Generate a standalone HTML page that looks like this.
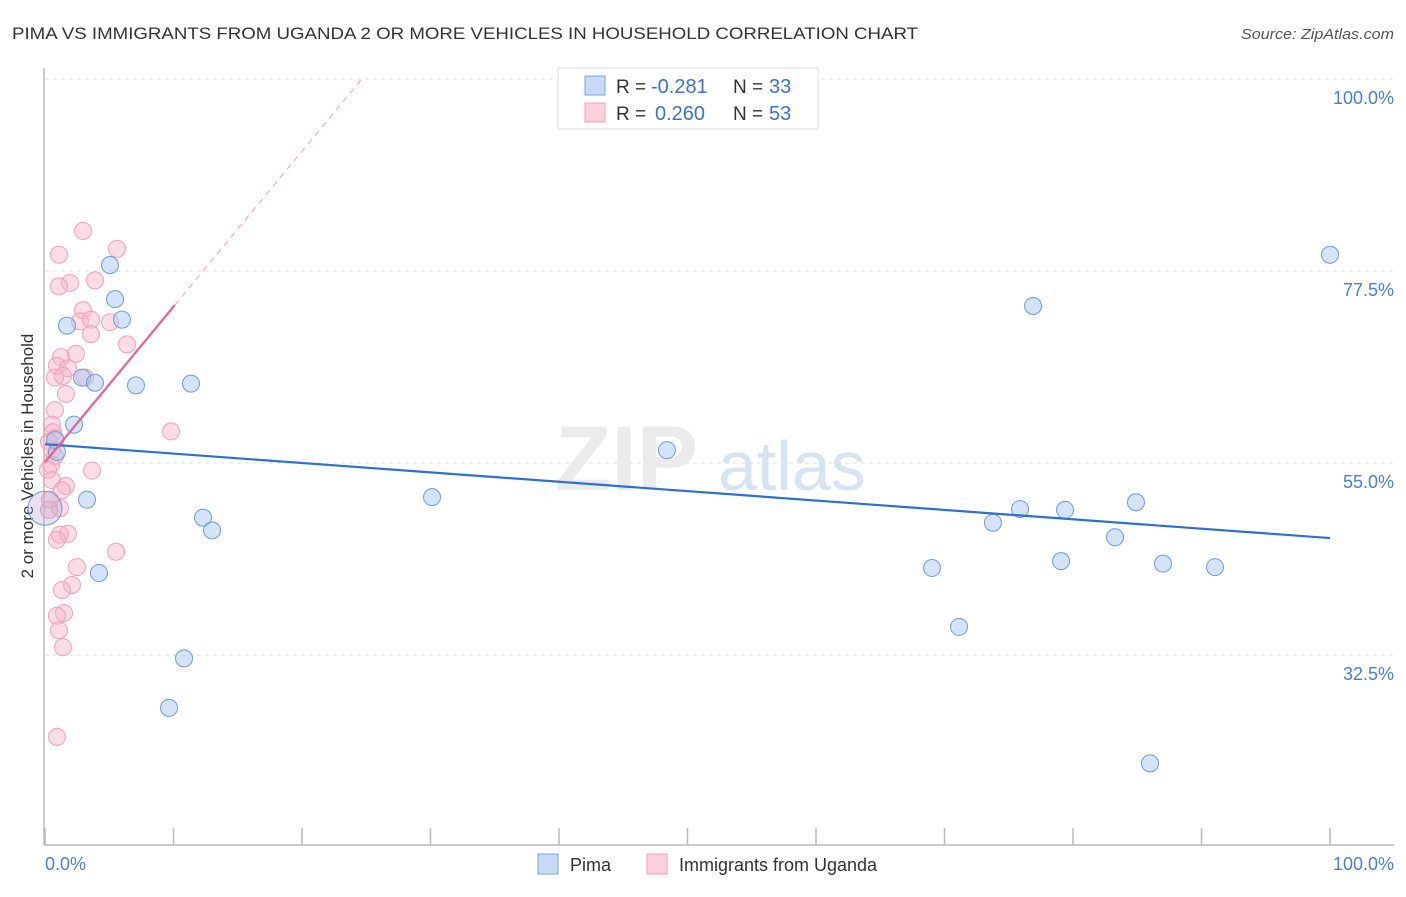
<!DOCTYPE html>
<html><head><meta charset="utf-8">
<style>
body{margin:0;background:#fff;font-family:"Liberation Sans",sans-serif;}
svg text{font-family:"Liberation Sans",sans-serif;}
</style></head>
<body>
<svg id="chart" width="1406" height="892" viewBox="0 0 1406 892" xmlns="http://www.w3.org/2000/svg">
<text x="12" y="39" font-size="17" fill="#333" textLength="906" lengthAdjust="spacingAndGlyphs">PIMA VS IMMIGRANTS FROM UGANDA 2 OR MORE VEHICLES IN HOUSEHOLD CORRELATION CHART</text>
<text x="1394" y="39" font-size="15" fill="#555" text-anchor="end" font-style="italic" textLength="153" lengthAdjust="spacingAndGlyphs">Source: ZipAtlas.com</text>
<g id="grid"></g>
<g>
<text x="555" y="490" font-size="92" fill="#ebebeb" font-family="Liberation Serif,serif" font-weight="bold">ZIP</text>
<text x="718" y="490" font-size="70" fill="#d5e3f3">atlas</text>
</g>
<line x1="44" y1="68" x2="44" y2="845" stroke="#bbb" stroke-width="1.5"/>
<line x1="44" y1="845" x2="1394" y2="845" stroke="#bbb" stroke-width="1.5"/>
<g id="xticks"></g>
<g id="ylabels"></g>
<text x="45" y="870" font-size="18" fill="#4a7fd4">0.0%</text>
<text x="1394" y="870" font-size="18" fill="#4a7fd4" text-anchor="end">100.0%</text>
<text transform="translate(33,456) rotate(-90)" font-size="17" fill="#333" text-anchor="middle">2 or more Vehicles in Household</text>
<g id="points"></g>
<g id="trends"></g>
<g>
<rect x="558" y="68" width="260" height="61" fill="#fff" stroke="#ddd"/>
<rect x="585" y="76" width="20" height="19" fill="#c5daf6" stroke="#7aa6e0"/>
<text x="616" y="93" font-size="19" fill="#333">R =</text>
<text x="651" y="93" font-size="20" fill="#3a72d0">-0.281</text>
<text x="733" y="93" font-size="19" fill="#333">N =</text>
<text x="769" y="93" font-size="20" fill="#3a72d0">33</text>
<rect x="585" y="103" width="20" height="19" fill="#fbd0dc" stroke="#f0a0b8"/>
<text x="616" y="120" font-size="19" fill="#333">R =</text>
<text x="655" y="120" font-size="20" fill="#3a72d0">0.260</text>
<text x="733" y="120" font-size="19" fill="#333">N =</text>
<text x="769" y="120" font-size="20" fill="#3a72d0">53</text>
</g>
<g>
<rect x="538" y="854" width="20" height="20" fill="#c5daf6" stroke="#7aa6e0"/>
<text x="570" y="871" font-size="18" fill="#333">Pima</text>
<rect x="647" y="854" width="20" height="20" fill="#fbd0dc" stroke="#f0a0b8"/>
<text x="679" y="871" font-size="18" fill="#333">Immigrants from Uganda</text>
</g>
</svg>
<script>
const yTicks=[100,77.5,55,32.5];
const yTickLabels=["100.0%","77.5%","55.0%","32.5%"];
const xTicks=[0,10,20,30,40,50,60,70,80,90,100];
const pimaX=[5.06,5.45,1.71,5.99,2.88,3.89,7.08,11.36,2.26,0.93,0.78,3.27,0,12.3,13.0,4.2,10.82,9.65,30.12,48.4,100,76.89,73.77,75.88,79.38,84.9,83.27,69.03,79.07,87.0,91.05,71.13,85.99];
const pimaY=[78.2,74.2,71.1,71.8,65.0,64.4,64.1,64.3,59.5,56.3,57.7,50.7,49.7,48.6,47.1,42.1,32.1,26.3,51.0,56.5,79.4,73.4,48.0,49.6,49.5,50.4,46.3,42.7,43.5,43.2,42.8,35.8,19.8];
const ugX=[2.96,5.6,1.09,1.95,1.09,3.89,2.96,2.72,3.58,5.06,3.58,6.38,1.25,2.41,0.93,1.79,0.78,1.4,3.11,1.63,0.78,0.54,0.62,0.78,0.31,0.54,0.78,0.47,9.81,3.66,0.54,1.63,1.32,1.17,0.31,1.17,1.79,0.93,5.53,2.49,2.1,1.32,1.48,0.93,1.09,1.4,0.93,0.23,0.39];
const ugY=[82.2,80.1,79.4,76.1,75.7,76.4,72.9,71.6,71.8,71.5,70.1,68.9,67.4,67.8,66.4,66.1,65.0,65.2,65.0,63.1,61.2,59.5,58.6,57.9,57.5,56.5,55.8,54.8,58.7,54.1,53.0,52.3,51.8,49.7,49.5,46.6,46.7,46.0,44.6,42.8,40.7,40.1,37.4,37.1,35.4,33.4,22.9,54.2,50.7];
const pimaTrend=[57.2,46.2];
const ugTrend=[55.1,73.5];
const ugTrendX=[0,10.1];
const NS="http://www.w3.org/2000/svg";
const X=v=>45+v*12.85;
const Y=v=>79+(100-v)*8.533;
function mk(tag,attrs,parent){const e=document.createElementNS(NS,tag);for(const k in attrs)e.setAttribute(k,attrs[k]);parent.appendChild(e);return e;}
const grid=document.getElementById('grid'),yl=document.getElementById('ylabels'),xt=document.getElementById('xticks');
yTicks.forEach((t,i)=>{
 const l=mk('line',{x1:45,x2:1394,y1:Y(t),y2:Y(t),stroke:'#ddd','stroke-dasharray':'4,4'},grid);
 
 
 const tx=mk('text',{x:1394,y:Y(t)+25,'font-size':18,fill:'#4a7fd4','text-anchor':'end'},yl);
 tx.textContent=yTickLabels[i];
 
 
});
xTicks.forEach(t=>{
 const l=mk('line',{x1:X(t),x2:X(t),y1:828,y2:845,stroke:'#bbb','stroke-width':1.5},xt);
 
 
});
const pts=document.getElementById('points');
ugX.forEach((x,i)=>{
 const c=mk('circle',{cx:X(x),cy:Y(ugY[i]),r:8.5,fill:'rgba(248,180,200,0.45)',stroke:'#f0a0b8','stroke-width':1},pts);
 
 
});
pimaX.forEach((x,i)=>{
 const c=mk('circle',{cx:X(x),cy:Y(pimaY[i]),r:i===12?17:8.5,fill:i===12?'rgba(170,160,210,0.3)':'rgba(170,200,240,0.5)',stroke:'#6d9be0','stroke-width':1},pts);
 
 
});
const tr=document.getElementById('trends');
const b=mk('line',{x1:X(0),y1:Y(pimaTrend[0]),x2:X(100),y2:Y(pimaTrend[1]),stroke:'#2f6fd0','stroke-width':2.2},tr);


const slope=(ugTrend[1]-ugTrend[0])/(ugTrendX[1]-ugTrendX[0]);
const xEnd=(100-ugTrend[0])/slope;
const d=mk('line',{x1:X(ugTrendX[1]),y1:Y(ugTrend[1]),x2:X(xEnd),y2:Y(100),stroke:'#f0a0b8','stroke-width':1,'stroke-dasharray':'6,5'},tr);


const p=mk('line',{x1:X(ugTrendX[0]),y1:Y(ugTrend[0]),x2:X(ugTrendX[1]),y2:Y(ugTrend[1]),stroke:'#e8628e','stroke-width':2.2},tr);


</script>
</body></html>
